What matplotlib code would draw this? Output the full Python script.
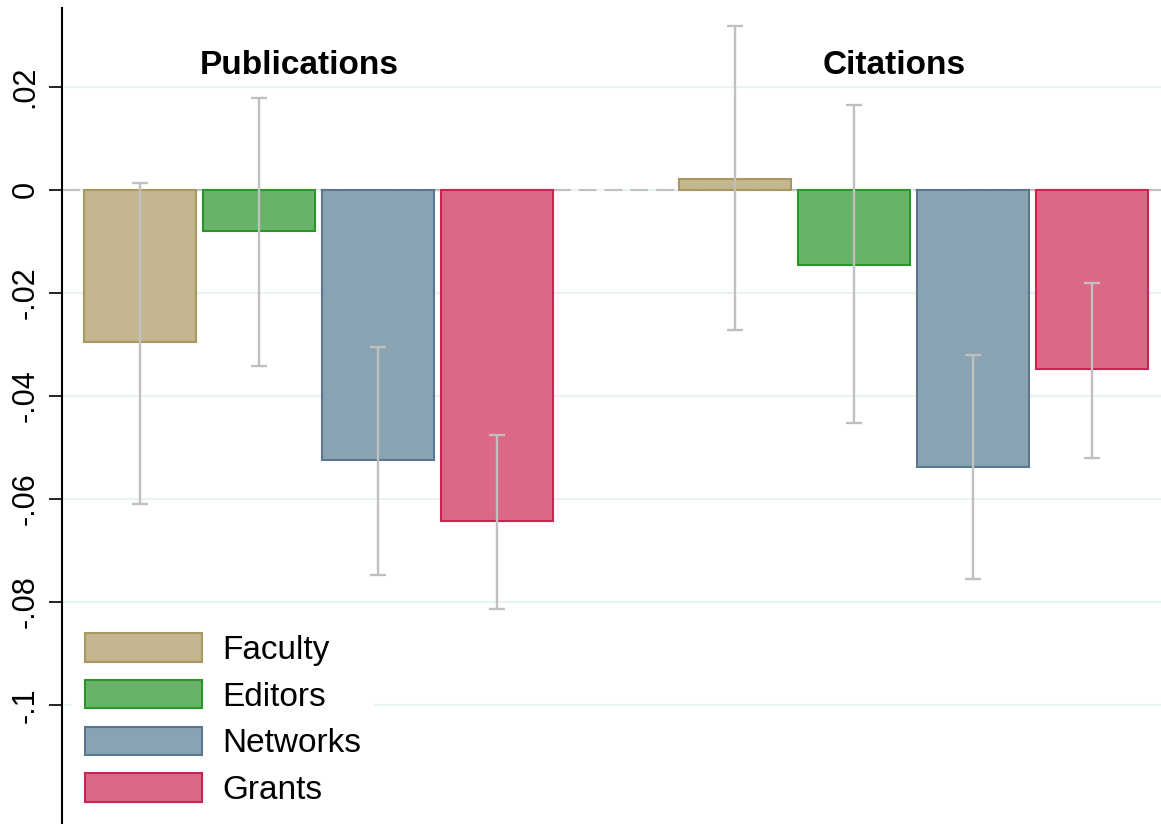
import matplotlib
matplotlib.use("Agg")
import matplotlib.pyplot as plt
import numpy as np

plt.rcParams['font.family'] = ['Liberation Sans', 'DejaVu Sans']

groups = ["Publications", "Citations"]
series = ["Faculty", "Editors", "Networks", "Grants"]
coef = {
    "Publications": [-0.0296, -0.0080, -0.0525, -0.0642],
    "Citations":    [0.0022, -0.0145, -0.0538, -0.0348],
}
ci_low = {
    "Publications": [-0.0610, -0.0342, -0.0748, -0.0813],
    "Citations":    [-0.0272, -0.0453, -0.0755, -0.0520],
}
ci_high = {
    "Publications": [0.0014, 0.0179, -0.0306, -0.0476],
    "Citations":    [0.0318, 0.0164, -0.0321, -0.0181],
}
yticks = [0.02, 0.0, -0.02, -0.04, -0.06, -0.08, -0.1]
yticklabels = [".02", "0", "-.02", "-.04", "-.06", "-.08", "-.1"]

fills = ["#c4b78f", "#68b368", "#8aa3b2", "#db6884"]
edges = ["#a8975e", "#2a962a", "#5b778e", "#cc2452"]

fig = plt.figure(figsize=(11.61, 8.24), dpi=100)
ax = fig.add_axes([0.0534, 0.0, 0.9466, 0.9903])

grid_c = "#eaf2f3"
for t in yticks:
    ax.axhline(t, color=grid_c, lw=1.6, zorder=0)
ax.axhline(0, color="#c0c0c0", lw=1.5, ls=(0, (8.6, 3.8)), zorder=1)

width = 0.94
for g_i, g in enumerate(groups):
    base = g_i * 5
    for s_i, s in enumerate(series):
        x = base + s_i
        ax.bar(x, coef[g][s_i], width=width, color=fills[s_i], edgecolor=edges[s_i],
               linewidth=1.5, zorder=2, label=s if g_i == 0 else None)
        lo, hi = ci_low[g][s_i], ci_high[g][s_i]
        ax.errorbar(x, (lo + hi) / 2, yerr=[[(hi - lo) / 2], [(hi - lo) / 2]], fmt="none",
                    ecolor="#c0c0c0", elinewidth=1.7, capsize=5.5, capthick=1.7, zorder=3)

for g_i, g in enumerate(groups):
    ax.text(g_i * 5 + 1.336, 0.0241, g, ha="center", va="center",
            fontsize=24, fontweight="bold")

ax.set_xlim(-0.655, 8.58)
ax.set_ylim(-0.1231, 0.0353)
ax.set_yticks(yticks)
ax.set_yticklabels(yticklabels, rotation=90, va="center", fontsize=22)
ax.tick_params(axis="y", length=9.5, width=1.2, pad=6, color="black")
ax.set_xticks([])
for sp in ["top", "right", "bottom"]:
    ax.spines[sp].set_visible(False)
ax.spines["left"].set_linewidth(1.5)

leg = ax.legend(loc="lower left", bbox_to_anchor=(-0.006, -0.0147), fontsize=24,
                frameon=True, handlelength=3.5, handleheight=0.93,
                handletextpad=0.6, labelspacing=0.42, borderpad=0.4)
leg.get_frame().set_edgecolor("none")
leg.get_frame().set_facecolor("white")
leg.get_frame().set_alpha(1)
leg.set_zorder(5)

fig.savefig("out.png", dpi=100)
